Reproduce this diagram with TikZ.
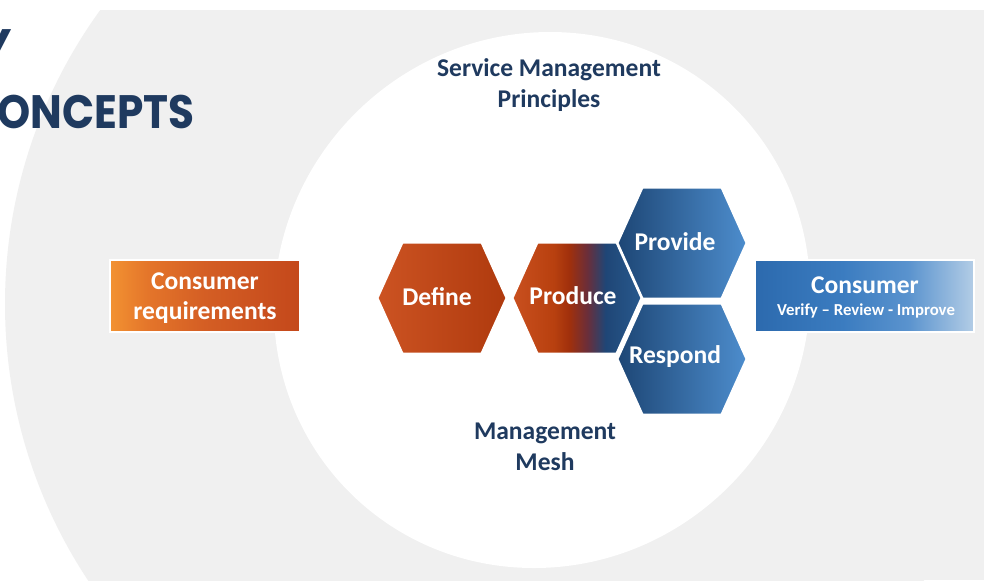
\documentclass[tikz,border=0pt]{standalone}
\usepackage{fontspec}
\usepackage{graphicx}
\setmainfont{Carlito}
\newfontfamily\titlefont{Poppins}
\definecolor{navy}{HTML}{1F3A5F}
\definecolor{bggray}{HTML}{F0F0F0}
\definecolor{prodA}{HTML}{C9501F}
\definecolor{prodB}{HTML}{B8400F}
\definecolor{prodC}{HTML}{A0300C}
\definecolor{prodD}{HTML}{6A2E3A}
\definecolor{prodE}{HTML}{1F4676}
\definecolor{prodF}{HTML}{28598D}
\definecolor{conA}{HTML}{2C6AAE}
\definecolor{conB}{HTML}{3B7CC0}
\definecolor{conC}{HTML}{5A93CE}
\definecolor{conD}{HTML}{B3CDE6}
\definecolor{reqA}{HTML}{F29232}
\definecolor{reqB}{HTML}{E4752A}
\definecolor{reqC}{HTML}{D45E24}
\definecolor{reqD}{HTML}{C4481B}
\definecolor{defA}{HTML}{CC5322}
\definecolor{defB}{HTML}{AF3A0E}
\definecolor{blueA}{HTML}{1D4675}
\definecolor{blueB}{HTML}{4D8DCD}
\pgfdeclarehorizontalshading{produceshade}{100bp}{color(0bp)=(prodA); color(25bp)=(prodA); color(41bp)=(prodB); color(47bp)=(prodC); color(54bp)=(prodD); color(61bp)=(prodE); color(75bp)=(prodF); color(100bp)=(prodF)}
\pgfdeclarehorizontalshading{consumershade}{100bp}{color(0bp)=(conA); color(25bp)=(conA); color(45bp)=(conB); color(60bp)=(conC); color(75bp)=(conD); color(100bp)=(conD)}
\pgfdeclarehorizontalshading{reqshade}{100bp}{color(0bp)=(reqA); color(25bp)=(reqA); color(35bp)=(reqB); color(50bp)=(reqC); color(75bp)=(reqD); color(100bp)=(reqD)}
\tikzset{
  lbl/.style={text=navy, font=\bfseries\fontsize{21.8}{26.5}\selectfont, align=center, inner sep=0pt},
  hexlbl/.style={text=white, font=\bfseries\fontsize{21.8}{26}\selectfont, inner sep=0pt},
  hexedge/.style={draw=white, line width=0.06cm},
  boxedge/.style={draw=white, line width=0.06cm},
  boxlbl/.style={text=white, font=\bfseries\fontsize{21.8}{25.6}\selectfont, align=center, inner sep=0pt},
  titlelbl/.style={text=navy, font=\titlefont\bfseries\fontsize{40}{44}\selectfont, inner sep=0pt, anchor=east}
}
\begin{document}
\begin{tikzpicture}[x=0.03cm, y=-0.03cm]
\useasboundingbox (0,0) rectangle (984,580);
\fill[white] (0,0) rectangle (984,580);
\begin{scope}
  \clip (0,10) rectangle (984,580);
  \fill[bggray] (506,304) circle (501);
  \fill[bggray] (506,10) rectangle (984,580);
\end{scope}
\begin{scope}[shift={(542,300)}, xslant=0.03]
  \fill[white] (0,0) circle (268);
\end{scope}
\begin{scope}
  \clip (0,0) rectangle (984,580);
  \node[titlelbl] (tY) at (12,46) {Y};
  \node[titlelbl] (tC) at (195,112) {\scalebox{0.9}[1]{ONCEPTS}};
\end{scope}

% boxes
\path[boxedge, shading=reqshade] (110,260) rectangle (300,332);
\path[boxedge, shading=consumershade] (755,260) rectangle (974,332);
\node[boxlbl] (req) at (205,298) {Consumer\\requirements};
\node[boxlbl] (con) at (865,285) {Consumer};
\node[text=white, font=\bfseries\fontsize{14.3}{17}\selectfont, inner sep=0pt] (conv) at (866,311) {Verify -- Review - Improve};

% hexagons
\path[hexedge, left color=defA, right color=defB] (442,298) ++(-64.5,0) -- ++(25,-55.5) -- ++(79,0) -- ++(25,55.5) -- ++(-25,55.5) -- ++(-79,0) -- cycle;
\path[hexedge, shading=produceshade] (577,298) ++(-64.5,0) -- ++(25,-55.5) -- ++(79,0) -- ++(25,55.5) -- ++(-25,55.5) -- ++(-79,0) -- cycle;
\path[hexedge, left color=blueA, right color=blueB] (682,243) ++(-64.5,0) -- ++(25,-55.5) -- ++(79,0) -- ++(25,55.5) -- ++(-25,55.5) -- ++(-79,0) -- cycle;
\path[hexedge, left color=blueA, right color=blueB] (682,359) ++(-64.5,0) -- ++(25,-55.5) -- ++(79,0) -- ++(25,55.5) -- ++(-25,55.5) -- ++(-79,0) -- cycle;
\node[hexlbl] (def) at (437,297) {Define};
\node[hexlbl] (prod) at (573,296) {Produce};
\node[hexlbl] (prov) at (675,242) {Provide};
\node[hexlbl] (resp) at (675,357) {Respond};

% circle labels
\node[lbl] (smp) at (549,85) {Service Management\\Principles};
\node[lbl] (mm) at (545,447) {Management\\Mesh};
\end{tikzpicture}
\end{document}
